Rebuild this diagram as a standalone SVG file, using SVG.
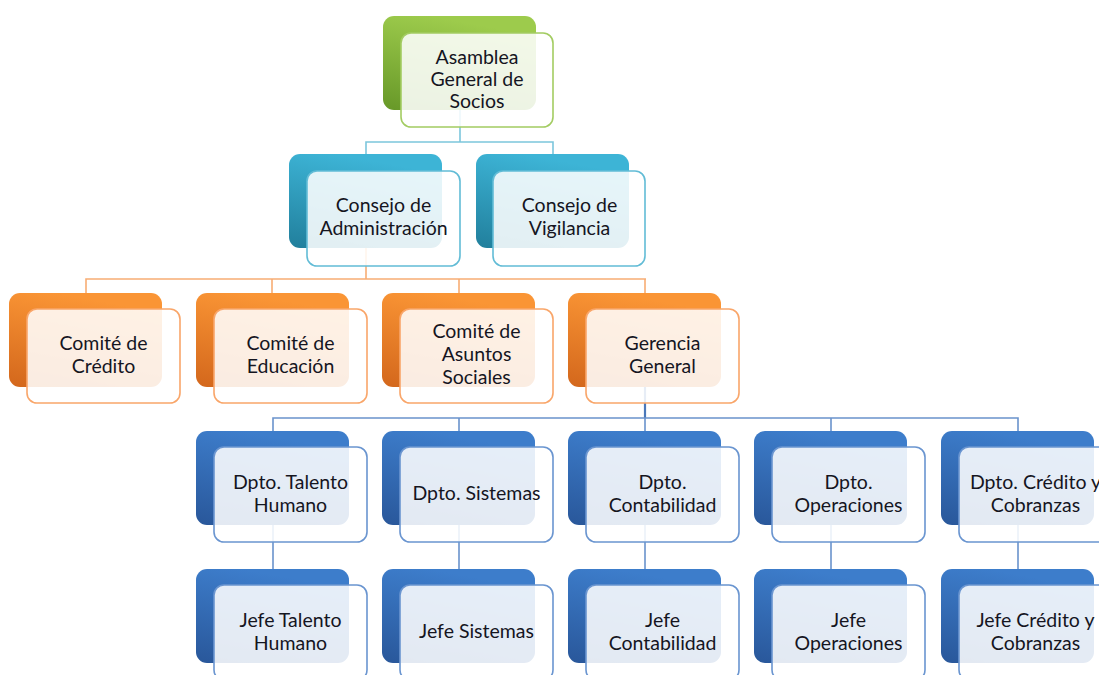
<svg xmlns="http://www.w3.org/2000/svg" width="1099" height="675" viewBox="0 0 1099 675">
<style>
.cg{stroke:none}
.ov{fill:#ffffff;fill-opacity:0.87;stroke-width:1.6}
.og{stroke:#a3cc62}
.ot{stroke:#62bcd6}
.oo{stroke:#f9a66a}
.ob{stroke:#6a95d0}
text{font-family:Lato,"Liberation Sans",sans-serif;font-size:19.5px;fill:#15151f;text-anchor:middle}
.lt{fill:none;stroke:#7cc6dc;stroke-width:1.6}
.lo{fill:none;stroke:#f8ad74;stroke-width:1.6}
.lb{fill:none;stroke:#6a93cc;stroke-width:1.6}
</style>
<defs>
<linearGradient id="gG" x1="0.3" y1="0" x2="0" y2="1"><stop offset="0" stop-color="#9dcb4c"/><stop offset="1" stop-color="#679828"/></linearGradient>
<linearGradient id="gT" x1="0.3" y1="0" x2="0" y2="1"><stop offset="0" stop-color="#3db4d6"/><stop offset="1" stop-color="#217f9c"/></linearGradient>
<linearGradient id="gO" x1="0.3" y1="0" x2="0" y2="1"><stop offset="0" stop-color="#fa9535"/><stop offset="1" stop-color="#d3671c"/></linearGradient>
<linearGradient id="gB" x1="0.3" y1="0" x2="0" y2="1"><stop offset="0" stop-color="#3d7dcb"/><stop offset="1" stop-color="#29579a"/></linearGradient>
</defs>
<rect width="1099" height="675" fill="#ffffff"/>
<g id="connectors">
<path class="lt" d="M460,110 V142 M366,154 V142 H553 V154"/>
<path class="lo" d="M366,248 V279 M86,293 V279 H646 M272,279 V293 M459,279 V293 M645,279 V293"/>
<path class="lb" d="M645,387 V418" style="stroke-width:2.2;stroke:#4a78ba"/>
<path class="lb" d="M273,431 V418 H1018 V431 M459,418 V431 M645,418 V431 M831,418 V431"/>
<path class="lb" d="M273,525 V569 M459,525 V569 M645,525 V569 M831,525 V569 M1018,525 V569"/>
</g>
<g id="n-asamblea">
<rect class="cg" x="383" y="16" width="153" height="94" rx="11" fill="url(#gG)"/>
<rect class="ov og" x="401" y="33" width="152" height="94" rx="10"/>
<text x="477" y="64">Asamblea</text><text x="477" y="86">General de</text><text x="477" y="108">Socios</text>
</g>
<g id="n-consejo-admin">
<rect class="cg" x="289" y="154" width="153" height="94" rx="11" fill="url(#gT)"/>
<rect class="ov ot" x="307" y="171" width="153" height="95" rx="10"/>
<text x="383.5" y="212">Consejo de</text><text x="383.5" y="235">Administración</text>
</g>
<g id="n-consejo-vig">
<rect class="cg" x="476" y="154" width="153" height="94" rx="11" fill="url(#gT)"/>
<rect class="ov ot" x="493" y="171" width="152" height="95" rx="10"/>
<text x="569.5" y="212">Consejo de</text><text x="569.5" y="235">Vigilancia</text>
</g>
<g id="n-comite-credito">
<rect class="cg" x="9" y="293" width="153" height="94" rx="11" fill="url(#gO)"/>
<rect class="ov oo" x="27" y="309" width="153" height="94" rx="10"/>
<text x="103.5" y="350">Comité de</text><text x="103.5" y="373">Crédito</text>
</g>
<g id="n-comite-educacion">
<rect class="cg" x="196" y="293" width="153" height="94" rx="11" fill="url(#gO)"/>
<rect class="ov oo" x="214" y="309" width="153" height="94" rx="10"/>
<text x="290.5" y="350">Comité de</text><text x="290.5" y="373">Educación</text>
</g>
<g id="n-comite-asuntos">
<rect class="cg" x="382" y="293" width="153" height="94" rx="11" fill="url(#gO)"/>
<rect class="ov oo" x="400" y="309" width="153" height="94" rx="10"/>
<text x="476.5" y="338">Comité de</text><text x="476.5" y="361">Asuntos</text><text x="476.5" y="384">Sociales</text>
</g>
<g id="n-gerencia">
<rect class="cg" x="568" y="293" width="153" height="94" rx="11" fill="url(#gO)"/>
<rect class="ov oo" x="586" y="309" width="153" height="94" rx="10"/>
<text x="662.5" y="350">Gerencia</text><text x="662.5" y="373">General</text>
</g>
<g id="n-dpto-talento">
<rect class="cg" x="196" y="431" width="153" height="94" rx="11" fill="url(#gB)"/>
<rect class="ov ob" x="214" y="447" width="153" height="95" rx="10"/>
<text x="290.5" y="489">Dpto. Talento</text><text x="290.5" y="512">Humano</text>
</g>
<g id="n-dpto-sistemas">
<rect class="cg" x="382" y="431" width="153" height="94" rx="11" fill="url(#gB)"/>
<rect class="ov ob" x="400" y="447" width="153" height="95" rx="10"/>
<text x="476.5" y="500">Dpto. Sistemas</text>
</g>
<g id="n-dpto-contabilidad">
<rect class="cg" x="568" y="431" width="153" height="94" rx="11" fill="url(#gB)"/>
<rect class="ov ob" x="586" y="447" width="153" height="95" rx="10"/>
<text x="662.5" y="489">Dpto.</text><text x="662.5" y="512">Contabilidad</text>
</g>
<g id="n-dpto-operaciones">
<rect class="cg" x="754" y="431" width="153" height="94" rx="11" fill="url(#gB)"/>
<rect class="ov ob" x="772" y="447" width="153" height="95" rx="10"/>
<text x="848.5" y="489">Dpto.</text><text x="848.5" y="512">Operaciones</text>
</g>
<g id="n-dpto-credito">
<rect class="cg" x="941" y="431" width="153" height="94" rx="11" fill="url(#gB)"/>
<rect class="ov ob" x="959" y="447" width="153" height="95" rx="10"/>
<text x="1035.5" y="489">Dpto. Crédito y</text><text x="1035.5" y="512">Cobranzas</text>
</g>
<g id="n-jefe-talento">
<rect class="cg" x="196" y="569" width="153" height="94" rx="11" fill="url(#gB)"/>
<rect class="ov ob" x="214" y="585" width="153" height="95" rx="10"/>
<text x="290.5" y="627">Jefe Talento</text><text x="290.5" y="650">Humano</text>
</g>
<g id="n-jefe-sistemas">
<rect class="cg" x="382" y="569" width="153" height="94" rx="11" fill="url(#gB)"/>
<rect class="ov ob" x="400" y="585" width="153" height="95" rx="10"/>
<text x="476.5" y="638">Jefe Sistemas</text>
</g>
<g id="n-jefe-contabilidad">
<rect class="cg" x="568" y="569" width="153" height="94" rx="11" fill="url(#gB)"/>
<rect class="ov ob" x="586" y="585" width="153" height="95" rx="10"/>
<text x="662.5" y="627">Jefe</text><text x="662.5" y="650">Contabilidad</text>
</g>
<g id="n-jefe-operaciones">
<rect class="cg" x="754" y="569" width="153" height="94" rx="11" fill="url(#gB)"/>
<rect class="ov ob" x="772" y="585" width="153" height="95" rx="10"/>
<text x="848.5" y="627">Jefe</text><text x="848.5" y="650">Operaciones</text>
</g>
<g id="n-jefe-credito">
<rect class="cg" x="941" y="569" width="153" height="94" rx="11" fill="url(#gB)"/>
<rect class="ov ob" x="959" y="585" width="153" height="95" rx="10"/>
<text x="1035.5" y="627">Jefe Crédito y</text><text x="1035.5" y="650">Cobranzas</text>
</g>
</svg>
